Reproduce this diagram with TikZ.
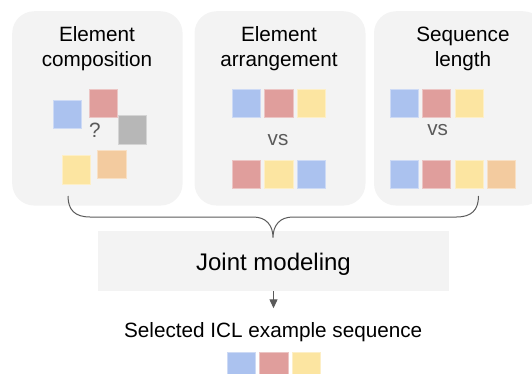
\documentclass[tikz,border=0pt]{standalone}
\usepackage{fontspec}
\setmainfont{Liberation Sans}
\usetikzlibrary{arrows.meta}
\definecolor{cblue}{HTML}{ABC2EF}
\definecolor{cred}{HTML}{E09E9C}
\definecolor{cyellow}{HTML}{FCE5A1}
\definecolor{corange}{HTML}{F3CB9F}
\definecolor{cgray}{HTML}{B7B7B7}
\definecolor{cpanel}{HTML}{F3F3F3}
\definecolor{cline}{HTML}{5A5A5A}
\tikzset{
  panel/.style={fill=cpanel, rounded corners=22pt, minimum height=194.3pt, inner sep=0pt},
  sq/.style={minimum size=28.4pt, inner sep=0pt, draw=white!40!#1, line width=0.6pt, fill=#1},
  title/.style={font=\fontsize{20.7}{25.4}\selectfont, align=center, anchor=base},
  vs/.style={font=\fontsize{20.7}{24}\selectfont, text=cline, anchor=base},
  arr/.style={-{Triangle[length=9pt,width=8pt]}, line width=1.2pt, draw=cline}
}
\begin{document}
\begin{tikzpicture}[x=1pt,y=-1pt]
  %%%%% START %%%%%
  \useasboundingbox (0,0) rectangle (532,374);
  \clip (0,0) rectangle (532,374);

  % three panels
  \node[panel, minimum width=170.4pt] (p1) at (97.4,108.4) {};
  \node[panel, minimum width=171pt] (p2) at (280,108.4) {};
  \node[panel, minimum width=171pt] (p3) at (459.5,108.4) {};

  % titles (base = last line)
  \node[title] (t1) at (97,66.8) {Element\\composition};
  \node[title] (t2) at (279,66.8) {Element\\arrangement};
  \node[title] (t3) at (463,66.8) {Sequence\\length};

  % element composition
  \node[sq=cblue] (e1) at (67,114.2) {};
  \node[sq=cred] (e2) at (103.5,103.5) {};
  \node[sq=cgray] (e3) at (132.5,130) {};
  \node[sq=cyellow] (e4) at (76.5,169.7) {};
  \node[sq=corange] (e5) at (111.7,164.4) {};
  \node[vs] (q) at (95,137.4) {?};

  % element arrangement
  \foreach \c [count=\i] in {cblue,cred,cyellow}
    \node[sq=\c] (a\i) at ({246.3+32.5*(\i-1)},103.5) {};
  \foreach \c [count=\i] in {cred,cyellow,cblue}
    \node[sq=\c] (b\i) at ({246.3+32.5*(\i-1)},174.4) {};
  \node[vs] (vs1) at (278,145.2) {vs};

  % sequence length
  \foreach \c [count=\i] in {cblue,cred,cyellow}
    \node[sq=\c] (l\i) at ({404+32.5*(\i-1)},103.5) {};
  \foreach \c [count=\i] in {cblue,cred,cyellow,corange}
    \node[sq=\c] (m\i) at ({404+32.5*(\i-1)},174.4) {};
  \node[vs] (vs2) at (437.7,135.7) {vs};

  % joint modeling
  \node[fill=cpanel, minimum width=350.2pt, minimum height=60pt, inner sep=0pt] (joint) at (273.5,261) {};
  \node[font=\fontsize{24}{28}\selectfont, anchor=base] (jtext) at (273.5,270.6) {Joint modeling};

  % brace
  \coordinate (bl) at (68,196);
  \coordinate (br) at (478.5,196);
  \coordinate (btip) at (273,237.7);
  \draw[cline, line width=1pt] (bl) .. controls (68,210) and (75,217) .. (90,217) -- (253,217)
    .. controls (266,217) and (273,225) .. (btip)
    .. controls (273,225) and (280,217) .. (293,217) -- (456.5,217)
    .. controls (471.5,217) and (478.5,210) .. (br);

  % output
  \coordinate (aend) at (273.5,308.3);
  \draw[arr] (joint) -- (aend);
  \node[font=\fontsize{20.7}{24}\selectfont, anchor=base] (sel) at (273.2,337.8) {Selected ICL example sequence};
  \foreach \c [count=\i] in {cblue,cred,cyellow}
    \node[sq=\c] (s\i) at ({241.2+32.5*(\i-1)},366.9) {};
  %%%%% END %%%%%
\end{tikzpicture}
\end{document}
